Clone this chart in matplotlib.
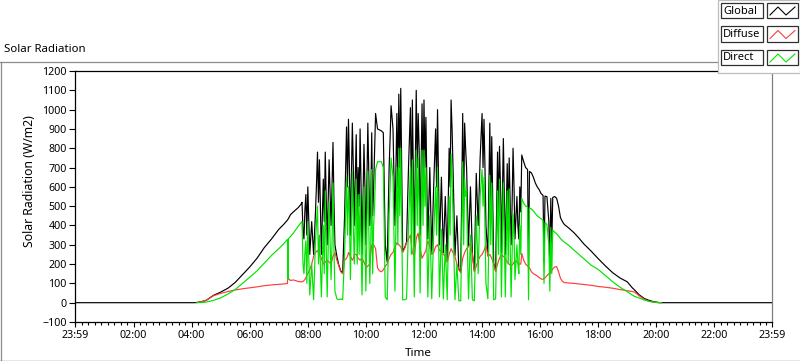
import matplotlib
matplotlib.use("Agg")
import matplotlib.pyplot as plt
import numpy as np
from matplotlib.ticker import MultipleLocator
from matplotlib.patches import Rectangle
from matplotlib.lines import Line2D

plt.rcParams['font.family'] = ['Noto Sans', 'DejaVu Sans']

# ---- data (time, W/m2); None = no sample shown ----
times = [
    "00:00", "04:05", "04:10", "04:20", "04:30", "04:45", "05:00", "05:15", "05:30", "05:45",
    "06:00", "06:15", "06:30", "06:45", "07:00", "07:10", "07:18", "07:19", "07:20", "07:24",
    "07:30", "07:40", "07:46",
    "07:48", "07:52", "07:56", "08:00", "08:04", "08:08", "08:12", "08:16", "08:20", "08:24",
    "08:28", "08:32", "08:36", "08:40", "08:44", "08:48", "08:52", "08:56", "09:00", "09:04",
    "09:08", "09:12", "09:16", "09:20", "09:24", "09:28", "09:32", "09:36", "09:40", "09:44",
    "09:48", "09:52", "09:56", "10:00", "10:04", "10:08", "10:12", "10:16", "10:20", "10:24",
    "10:28", "10:32", "10:36", "10:40", "10:44", "10:48", "10:52", "10:56", "11:00", "11:04",
    "11:08", "11:12", "11:16", "11:20", "11:24", "11:28", "11:32", "11:36", "11:40", "11:44",
    "11:48", "11:52", "11:56", "12:00", "12:04", "12:08", "12:12", "12:16", "12:20", "12:24",
    "12:28", "12:32", "12:36", "12:40", "12:44", "12:48", "12:52", "12:56", "13:00", "13:04",
    "13:08", "13:12", "13:16", "13:20", "13:24", "13:28", "13:32", "13:36", "13:40", "13:44",
    "13:48", "13:52", "13:56", "14:00", "14:04", "14:08", "14:12", "14:16", "14:20", "14:24",
    "14:28", "14:32", "14:36", "14:40", "14:44", "14:48", "14:52", "14:56", "15:00", "15:04",
    "15:08", "15:12", "15:16", "15:20",
    "15:22", "15:26", "15:30", "15:34", "15:36", "15:38", "15:42", "15:46", "15:50", "15:54",
    "15:58", "16:02", "16:06", "16:08", "16:10", "16:14", "16:18", "16:20", "16:22", "16:24",
    "16:26", "16:30", "16:34", "16:38", "16:42", "16:46", "16:50", "17:00", "17:10", "17:20",
    "17:30", "17:45", "18:00", "18:15", "18:30", "18:45", "19:00", "19:10", "19:15", "19:25",
    "19:35", "19:45", "19:55", "20:05", "20:10", "23:59",
]

global_wm2 = [
    0, 0, 1, 5, 12, 38, 55, 75, 105, 145,
    185, 230, 285, 330, 380, 405, 428, 432, 436, 455,
    470, 492, 510,
    520, 330, 560, 600, 250, 420, 250, 480, 780, 740,
    250, 640, 780, 300, 740, 400, 830, 300, 240, 195,
    165, 155, 450, 910, 950, 350, 930, 400, 870, 700,
    900, 250, 820, 300, 930, 400, 880, 600, 980, 900,
    895, 890, 880, 300, 210, 700, 1020, 900, 400, 980,
    1080, 1110, 265, 285, 315, 700, 1010, 1050, 290, 1100,
    980, 350, 1030, 1050, 960, 330, 700, 255, 600, 900,
    1000, 300, 650, 260, 550, 220, 800, 1050, 700, 245,
    450, 175, 160, 980, 930, 700, 295, 600, 255, 165,
    670, 400, 750, 980, 950, 400, 245, 930, 860, 205,
    165, 780, 810, 260, 850, 250, 720, 750, 300, 800,
    330, 550, 330, 470,
    765, 730, 700, 690, 190, 680, 672, 650, 620, 600,
    585, 565, 556, 210, 552, 549, 420, 160, 540, 300,
    545, 550, 541, 500, 440, 420, 405, 385, 362, 335,
    305, 268, 228, 190, 155, 128, 108, 78, 66, 40,
    22, 12, 5, 1, 0, 0,
]

diffuse_wm2 = [
    None, None, 0, 5, 12, 36, 48, 58, 66, 72,
    77, 82, 88, 92, 95, 97, 100, 205, 125, 115,
    118, 110, 108,
    108, 115, 130, 150, 170, 200, 240, 260, 270, 250,
    230, 200, 210, 220, 210, 200, 240, 260, 220, 190,
    160, 150, 220, 230, 260, 240, 220, 250, 250, 230,
    220, 230, 210, 180, 190, 200, 300, 300, 280, 180,
    165, 160, 170, 190, 200, 230, 250, 260, 290, 310,
    300, 290, 260, 280, 310, 330, 350, 260, 240, 330,
    360, 280, 230, 250, 270, 320, 290, 250, 260, 290,
    300, 270, 270, 250, 240, 210, 250, 280, 260, 240,
    200, 170, 155, 230, 260, 280, 290, 310, 250, 160,
    190, 220, 240, 250, 270, 300, 240, 250, 230, 200,
    160, 200, 230, 250, 240, 230, 210, 200, 190, 200,
    220, 210, 200, 200,
    255, 220, 200, 190, 185, 180, 160, 150, 145, 138,
    130, 123, 121, 125, 128, 140, 150, 152, 158, 165,
    175, 185, 187, 160, 126, 110, 104, 102, 100, 97,
    94, 90, 84, 80, 75, 68, 62, 58, 55, 35,
    18, 7, 2, 0, 0, None,
]

direct_wm2 = [
    None, None, 0, 1, 3, 12, 25, 45, 68, 100,
    132, 165, 205, 245, 280, 305, 328, 120, 332, 342,
    360, 395, 415,
    420, 150, 320, 420, 40, 200, 15, 330, 500, 350,
    30, 400, 580, 30, 520, 120, 620, 60, 20, 15,
    20, 15, 250, 650, 600, 120, 680, 200, 640, 560,
    560, 40, 600, 60, 680, 100, 690, 400, 690, 730,
    730, 730, 700, 30, 15, 450, 750, 650, 60, 700,
    800, 800, 15, 15, 20, 400, 700, 740, 30, 790,
    750, 50, 790, 790, 700, 30, 450, 20, 350, 600,
    700, 30, 380, 20, 300, 15, 550, 770, 450, 15,
    200, 10, 10, 730, 640, 580, 20, 350, 15, 10,
    450, 150, 550, 690, 650, 100, 20, 660, 620, 15,
    20, 580, 640, 30, 620, 30, 580, 590, 30, 460,
    120, 300, 150, 250,
    540, 515, 500, 495, 15, 492, 485, 475, 462, 450,
    442, 435, 427, 100, 415, 405, 300, 60, 390, 150,
    375, 365, 358, 345, 332, 322, 314, 295, 272, 250,
    228, 195, 172, 140, 108, 80, 57, 40, 33, 24,
    14, 7, 3, 0, 0, None,
]

# extra in-between samples read in the densest cloudy stretches
detail_times = [
    "07:50", "07:54", "07:58", "08:18", "08:22", "08:34", "08:50", "08:54", "09:22", "09:26",
    "09:34", "09:42", "09:46", "09:50", "09:58", "10:06", "10:10", "10:14", "10:18", "10:50",
    "11:02", "11:06", "11:10", "11:34", "11:46", "11:50", "11:58", "12:02", "12:06", "12:26",
    "12:54", "12:58", "13:22", "13:26", "13:30", "14:02", "14:06", "14:18", "14:34", "14:38",
    "14:54", "15:02", "15:06", "15:14", "15:18",
]
detail_global = [
    380, 480, 350, 620, 520, 420, 600, 520, 600, 700,
    700, 450, 500, 600, 600, 650, 500, 450, 800, 850,
    700, 600, 700, 500, 700, 800, 600, 700, 600, 600,
    600, 900, 500, 800, 500, 700, 700, 500, 450, 600,
    400, 500, 600, 400, 600,
]
detail_diffuse = [
    110, 120, 140, 265, 260, 205, 220, 250, 240, 250,
    230, 240, 225, 225, 200, 195, 250, 300, 290, 240,
    300, 305, 295, 300, 350, 320, 240, 260, 300, 295,
    265, 270, 245, 270, 285, 260, 285, 240, 215, 240,
    205, 195, 210, 205, 200,
]
detail_direct = [
    200, 260, 100, 420, 200, 150, 300, 280, 350, 450,
    400, 200, 250, 300, 350, 400, 300, 150, 500, 600,
    400, 300, 450, 250, 400, 500, 400, 500, 300, 350,
    350, 650, 300, 550, 250, 500, 400, 300, 250, 400,
    200, 250, 350, 200, 400,
]

tick_labels = ["23:59", "02:00", "04:00", "06:00", "08:00", "10:00", "12:00",
               "14:00", "16:00", "18:00", "20:00", "22:00", "23:59"]


def to_hours(s):
    h, m = s.split(":")
    return int(h) + int(m) / 60.0


def as_float(v):
    return np.nan if v is None else float(v)


all_t = times + detail_times
all_g = global_wm2 + detail_global
all_f = diffuse_wm2 + detail_diffuse
all_d = direct_wm2 + detail_direct
order = sorted(range(len(all_t)), key=lambda i: to_hours(all_t[i]))
xh = np.array([to_hours(all_t[i]) for i in order])
g = np.array([as_float(all_g[i]) for i in order])
f = np.array([as_float(all_f[i]) for i in order])
d = np.array([as_float(all_d[i]) for i in order])

W, H = 800, 361
fig = plt.figure(figsize=(W / 100, H / 100), dpi=100)
fig.patch.set_facecolor("white")

ax = fig.add_axes([75 / W, 1 - 322 / H, 697 / W, 251 / H])
ax.plot(xh, g, color="black", lw=0.85, zorder=3)
ax.plot(xh, f, color="#ff3c3c", lw=0.85, zorder=4)
ax.plot(xh, d, color="#00e400", lw=0.85, zorder=5)

x0 = -1 / 60.0
x1 = 24 - 1 / 60.0
ax.set_xlim(x0, x1)
ax.set_ylim(-100, 1200)
ax.set_yticks(range(-100, 1201, 100))
ax.set_xticks([x0] + list(range(2, 23, 2)) + [x1])
ax.set_xticklabels(tick_labels)
ax.xaxis.set_minor_locator(MultipleLocator(2 / 9))

ax.tick_params(axis='y', which='major', direction='out', length=4.5, width=0.8,
               labelsize=7.7, pad=1.5, colors='black')
ax.tick_params(axis='x', which='major', direction='out', length=3.5, width=0.8,
               labelsize=7.7, pad=2, colors='black')
ax.tick_params(axis='x', which='minor', direction='out', length=2.2, width=0.8)

for side in ("left", "top", "bottom"):
    ax.spines[side].set_color("black")
    ax.spines[side].set_linewidth(0.9)
ax.spines["right"].set_color("#808080")
ax.spines["right"].set_linewidth(0.9)


def fx(p):
    return p / W


def fy(p):
    return 1 - p / H


# outer frame of the graph panel
fig.add_artist(Line2D([fx(0), fx(718)], [fy(61.5), fy(61.5)], color="#8c8c8c", lw=0.9))
fig.add_artist(Line2D([fx(0.5), fx(0.5)], [fy(61.5), fy(360.5)], color="#8c8c8c", lw=0.9))
fig.add_artist(Line2D([fx(0), fx(800)], [fy(360.5), fy(360.5)], color="#404040", lw=0.9))

# texts
fig.text(fx(4), fy(50), "Solar Radiation", fontsize=8.2, ha="left", va="center")
fig.text(fx(418), fy(353.5), "Time", fontsize=8.4, ha="center", va="center")
fig.text(fx(30), fy(181), "Solar Radiation (W/m2)", fontsize=8.8, ha="center",
         va="center", rotation=90)

# legend
fig.add_artist(Rectangle((fx(718), fy(72.5)), (800 - 718) / W, 72.5 / H,
                         facecolor="white", edgecolor="#bdbdbd", lw=0.9,
                         transform=fig.transFigure, zorder=10))
leg_names = ["Global", "Diffuse", "Direct"]
leg_colors = ["black", "#ff3c3c", "#00e400"]
row_tops = [3, 26.5, 50]
for name, col, top in zip(leg_names, leg_colors, row_tops):
    hgt = 15
    fig.add_artist(Rectangle((fx(721), fy(top + hgt)), 42 / W, hgt / H,
                             facecolor="white", edgecolor="#303030", lw=0.9,
                             transform=fig.transFigure, zorder=11))
    fig.text(fx(723), fy(top + hgt / 2 + 0.5), name, fontsize=8.0, ha="left",
             va="center", zorder=12)
    fig.add_artist(Rectangle((fx(767), fy(top + hgt)), 31 / W, hgt / H,
                             facecolor="white", edgecolor="#303030", lw=0.9,
                             transform=fig.transFigure, zorder=11))
    zx = [770, 778, 786, 795]
    zy = [top + 12, top + 4, top + 12, top + 4]
    fig.add_artist(Line2D([fx(v) for v in zx], [fy(v) for v in zy], color=col,
                          lw=0.8, zorder=12))

fig.savefig("out.png", dpi=100, facecolor="white")
